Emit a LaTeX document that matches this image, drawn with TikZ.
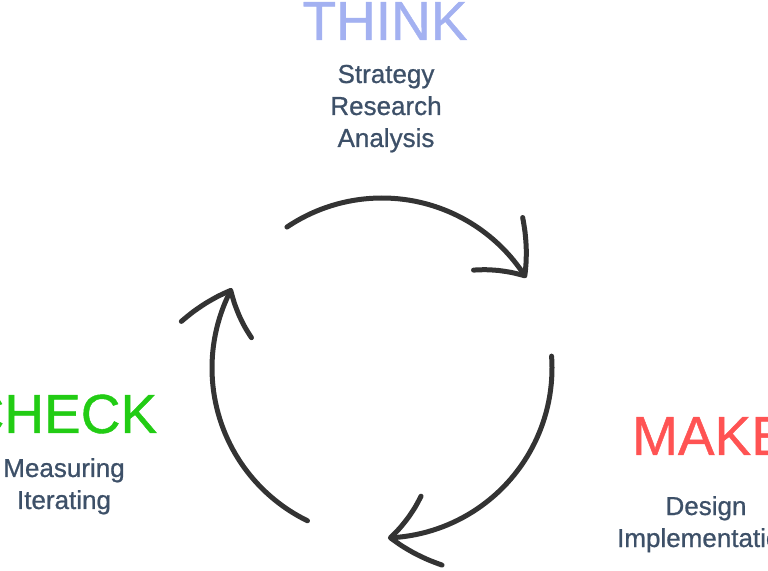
\documentclass[tikz,border=0pt]{standalone}
\usepackage{fontspec}
\setmainfont{Liberation Sans}
\newfontfamily\medfont{Liberation Sans}[FakeBold=0.8]
\usetikzlibrary{arrows.meta, % for open arrow heads
                bending, % for arrow heads on arcs
                positioning}

\definecolor{thinkblue}{HTML}{A3B1F1}
\definecolor{makered}{HTML}{FF5353}
\definecolor{checkgreen}{HTML}{22CC14}
\definecolor{slate}{HTML}{3D5068}
\definecolor{cyclegray}{HTML}{333333}

\begin{document}
\begin{tikzpicture}[x=1pt, y=1pt,
    Title/.style={font=\medfont\fontsize{55}{60}\selectfont, anchor=base, inner sep=0pt},
    Items/.style={font=\medfont\fontsize{26}{32}\selectfont, text=slate, align=center, anchor=base, inner sep=0pt},
    Cycle/.style={draw=cyclegray, line width=5pt, line cap=round,
        -{Straight Barb[length=42pt, width=72pt, round, bend]}}
    ]
    \useasboundingbox (0,0) rectangle (768,570);

    %stage titles
    \node[Title, text=thinkblue]  at (385,530) (think){THINK};
    \node[Title, text=makered]    at (710,115) (make){MAKE};
    \node[Title, text=checkgreen] at (61,137)  (check){CHECK};

    %stage items (base is the last line)
    \node[Items] at (386,423) (thinkitems){Strategy\\Research\\Analysis};
    \node[Items] at (706,23)  (makeitems){Design\\Implementation};
    \node[Items] at (64,61)   (checkitems){Measuring\\Iterating};

    %cycle arrows
    \newdimen\R
    \R=170pt
    \coordinate (C) at (382,202);
    \foreach \a in {124, 4, -116}
        \draw[Cycle] ([shift={(\a:\R)}]C) arc[start angle=\a, delta angle=-92, radius=\R];
\end{tikzpicture}
\end{document}
